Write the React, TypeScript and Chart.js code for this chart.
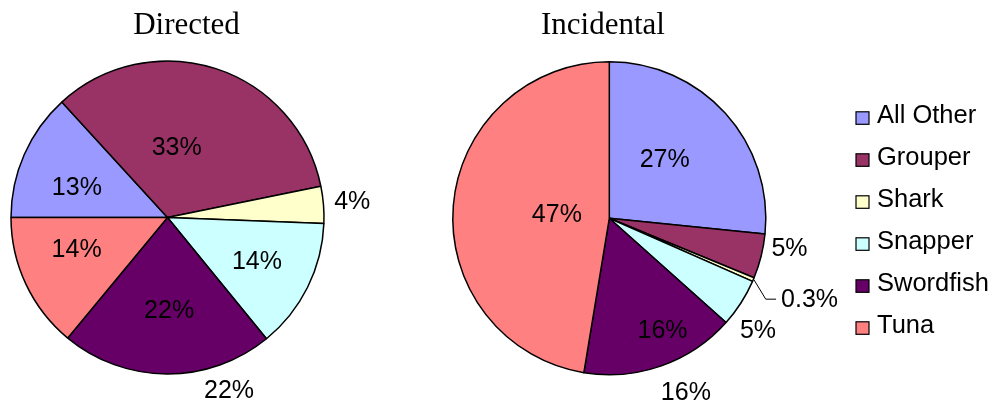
import React, { useEffect, useRef } from "react";
import { Chart, registerables } from "chart.js";

Chart.register(...registerables);

// ---- data ----
const categories = ["All Other", "Grouper", "Shark", "Snapper", "Swordfish", "Tuna"];
// slice sizes
const directedValues = [13.2, 33.6, 3.8, 13.5, 21.9, 14.0];
const incidentalValues = [26.6, 4.6, 0.4, 5.0, 16.0, 47.4];
// printed percentage labels
const directedLabels = ["13%", "33%", "4%", "14%", "22%", "14%"];
const incidentalLabels = ["27%", "5%", "0.3%", "5%", "16%", "47%"];
const sliceColors = ["#9999FF", "#993366", "#FFFFCC", "#CCFFFF", "#660066", "#FF8080"];
const titles = ["Directed", "Incidental"];

// ---- label placement (angle offset from slice middle in degrees, radius factor) ----
type Place = { dA: number; rf: number; leader?: boolean; lDA?: number; lRf?: number };
const directedPlacement: Place[][] = [
  [{ dA: -4.65, rf: 0.61 }],
  [{ dA: -10.7, rf: 0.46 }],
  [{ dA: -0.75, rf: 1.18 }],
  [{ dA: -1.0, rf: 0.63 }],
  [{ dA: -1.2, rf: 0.58 }, { dA: -19.9, rf: 1.16 }],
  [{ dA: 6.5, rf: 0.61 }],
];
const incidentalPlacement: Place[][] = [
  [{ dA: -5.2, rf: 0.52 }],
  [{ dA: -5.1, rf: 1.16 }],
  [{ dA: -1.4, rf: 1.37, leader: true, lDA: 4.3, lRf: 1.12 }],
  [{ dA: 4.0, rf: 1.18 }],
  [{ dA: -6.3, rf: 0.78 }, { dA: -4.5, rf: 1.2 }],
  [{ dA: 1.1, rf: 0.335 }],
];

const SANS = '"Liberation Sans", Arial, sans-serif';
const SERIF = '"Liberation Serif", "Times New Roman", serif';

const pieLabelPlugin = {
  id: "pieLabels",
  afterDatasetsDraw(chart: any, _args: any, opts: any) {
    const ctx = chart.ctx;
    const meta = chart.getDatasetMeta(0);
    const fs = opts.fontSize;
    ctx.save();
    ctx.font = `${fs}px ${SANS}`;
    ctx.fillStyle = "#000";
    ctx.strokeStyle = "#000";
    ctx.lineWidth = 1;
    ctx.textAlign = "center";
    ctx.textBaseline = "alphabetic";
    meta.data.forEach((arc: any, i: number) => {
      const p = arc.getProps(["x", "y", "startAngle", "endAngle", "outerRadius"], true);
      const mid = (p.startAngle + p.endAngle) / 2;
      const R = p.outerRadius + 0.75;
      const text = opts.labels[i];
      (opts.placement[i] || []).forEach((pl: Place) => {
        const a = mid + (pl.dA * Math.PI) / 180;
        const cx = p.x + Math.cos(a) * pl.rf * R;
        const cy = p.y + Math.sin(a) * pl.rf * R;
        if (pl.leader) {
          const w = ctx.measureText(text).width;
          const a2 = mid + ((pl.lDA || 0) * Math.PI) / 180;
          const ex = p.x + Math.cos(a2) * (pl.lRf || 1.1) * R;
          const ey = p.y + Math.sin(a2) * (pl.lRf || 1.1) * R;
          ctx.beginPath();
          ctx.moveTo(p.x + Math.cos(mid) * R, p.y + Math.sin(mid) * R);
          ctx.lineTo(ex, ey);
          ctx.lineTo(cx - w / 2 - 5, ey);
          ctx.stroke();
        }
        ctx.fillText(text, cx, cy + 0.358 * fs);
      });
    });
    ctx.restore();
  },
};

const titlePlugin = {
  id: "pieTitle",
  afterDraw(chart: any, _args: any, opts: any) {
    const ctx = chart.ctx;
    ctx.save();
    ctx.font = `${opts.fontSize}px ${SERIF}`;
    ctx.fillStyle = "#000";
    ctx.textAlign = "center";
    ctx.textBaseline = "alphabetic";
    ctx.fillText(opts.text, opts.x, opts.baseline);
    ctx.restore();
  },
};

const legendPlugin = {
  id: "boxLegend",
  afterDraw(chart: any, _args: any, opts: any) {
    if (!opts.show) return;
    const ctx = chart.ctx;
    const labels: string[] = chart.data.labels;
    const bg: string[] = chart.data.datasets[0].backgroundColor;
    ctx.save();
    ctx.font = `${opts.fontSize}px ${SANS}`;
    ctx.textAlign = "left";
    ctx.textBaseline = "alphabetic";
    labels.forEach((lab, i) => {
      const base = opts.firstBaseline + i * opts.step;
      ctx.fillStyle = bg[i];
      ctx.fillRect(opts.boxX, base - 11.5, 13, 12.5);
      ctx.strokeStyle = "#000";
      ctx.lineWidth = 1.2;
      ctx.strokeRect(opts.boxX, base - 11.5, 13, 12.5);
      ctx.fillStyle = "#000";
      ctx.fillText(lab, opts.textX, base);
    });
    ctx.restore();
  },
};

type PieProps = {
  left: number;
  width: number;
  values: number[];
  labels: string[];
  placement: Place[][];
  rotation: number;
  padding: { left: number; right: number; top: number; bottom: number };
  title: string;
  titleX: number;
  legend: boolean;
};

function PieChart(props: PieProps) {
  const ref = useRef<HTMLCanvasElement | null>(null);
  useEffect(() => {
    if (!ref.current) return;
    const chart = new Chart(ref.current, {
      type: "pie",
      data: {
        labels: categories,
        datasets: [
          {
            data: props.values,
            backgroundColor: sliceColors,
            borderColor: "#000",
            borderWidth: 1.5,
          },
        ],
      },
      options: {
        responsive: false,
        animation: false,
        events: [],
        rotation: props.rotation,
        radius: 156.5,
        layout: { padding: props.padding },
        plugins: {
          legend: { display: false },
          tooltip: { enabled: false },
          title: { display: false },
          pieLabels: { labels: props.labels, placement: props.placement, fontSize: 25 },
          pieTitle: { text: props.title, x: props.titleX, baseline: 34, fontSize: 31 },
          boxLegend: {
            show: props.legend,
            boxX: 856 - props.left,
            textX: 877 - props.left,
            firstBaseline: 123.3,
            step: 42,
            fontSize: 25.5,
          },
        } as any,
      },
      plugins: [pieLabelPlugin, titlePlugin, legendPlugin],
    } as any);
    return () => chart.destroy();
  }, []);
  return (
    <canvas
      ref={ref}
      width={props.width}
      height={400}
      style={{ position: "absolute", left: props.left, top: 0, width: props.width, height: 400 }}
    />
  );
}

export default function App() {
  return (
    <div
      style={{
        position: "fixed",
        left: 0,
        top: 0,
        width: 993,
        height: 400,
        background: "#fff",
        overflow: "hidden",
      }}
    >
      <PieChart
        left={0}
        width={420}
        values={directedValues}
        labels={directedLabels}
        placement={directedPlacement}
        rotation={270}
        padding={{ left: 0, right: 85, top: 35, bottom: 0 }}
        title={titles[0]}
        titleX={186.5}
        legend={false}
      />
      <PieChart
        left={340}
        width={653}
        values={incidentalValues}
        labels={incidentalLabels}
        placement={incidentalPlacement}
        rotation={0}
        padding={{ left: 0, right: 114.4, top: 36.6, bottom: 0 }}
        title={titles[1]}
        titleX={263}
        legend={true}
      />
    </div>
  );
}
